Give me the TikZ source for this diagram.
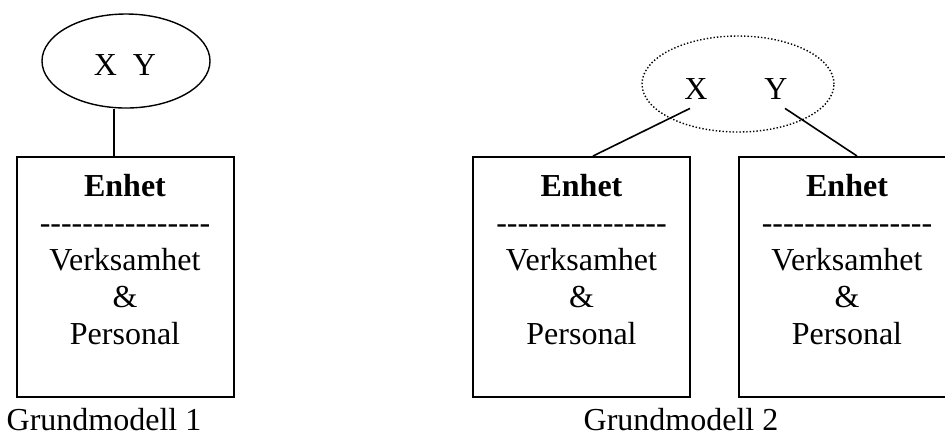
\documentclass[tikz,border=0pt]{standalone}
\usepackage{fontspec}
\setmainfont{Liberation Serif}
\usetikzlibrary{shapes.geometric, positioning}

\newcommand{\streckrad}{-{}-{}-{}-{}-{}-{}-{}-{}-{}-{}-{}-{}-{}-{}-{}-}

\begin{document}
\begin{tikzpicture}[x=0.5pt,y=-0.5pt]
            \tikzset{enhet/.style={draw,line width=1pt,minimum width=108.5pt,minimum height=120pt,inner sep=0pt}}
            \tikzset{innehall/.style={align=center,inner sep=0pt,font=\fontsize{16pt}{18.5pt}\selectfont}}
            \tikzset{rubrik/.style={inner sep=0pt,anchor=base,font=\fontsize{16pt}{18.5pt}\selectfont}}
            \tikzset{koppling/.style={line width=0.8pt}}

            \useasboundingbox (0,0) rectangle (945,436);

            % Grundmodell 1
            \node[ellipse,draw,line width=0.7pt,minimum width=84pt,minimum height=47pt,inner sep=0pt] (xyA) at (126,61) {};
            \node[rubrik] (xyAtext) at (125,75) {X\ \ Y};
            \node[enhet] (boxA) at (125,277) {};
            \node[innehall] (textA) [below=9pt of boxA.north] {\textbf{Enhet}\\ \streckrad\\ Verksamhet\\ \&\\ Personal};
            \node[rubrik] (namnA) at (104,430) {Grundmodell 1};

            \coordinate (fotA) at (114,157);
            \draw[koppling] (xyA.south -| fotA) -- (fotA);

            % Grundmodell 2
            \node[ellipse,draw,densely dotted,line width=0.7pt,minimum width=96pt,minimum height=48pt,inner sep=0pt] (xyB) at (738,84) {};
            \node[rubrik] (nodX) at (696,99) {X};
            \node[rubrik] (nodY) at (776,99) {Y};

            \node[enhet] (boxB) at (581.5,277) {};
            \node[enhet] (boxC) at (847,277) {};
            \node[innehall] (textB) [below=9pt of boxB.north] {\textbf{Enhet}\\ \streckrad\\ Verksamhet\\ \&\\ Personal};
            \node[innehall] (textC) [below=9pt of boxC.north] {\textbf{Enhet}\\ \streckrad\\ Verksamhet\\ \&\\ Personal};
            \node[rubrik] (namnB) at (681,430) {Grundmodell 2};

            \draw[koppling] ([xshift=-3pt,yshift=-4.5pt]nodX.south) -- ([xshift=5.75pt]boxB.north);
            \draw[koppling] ([xshift=4.5pt,yshift=-4.5pt]nodY.south) -- ([xshift=5pt]boxC.north);

\end{tikzpicture}
\end{document}
